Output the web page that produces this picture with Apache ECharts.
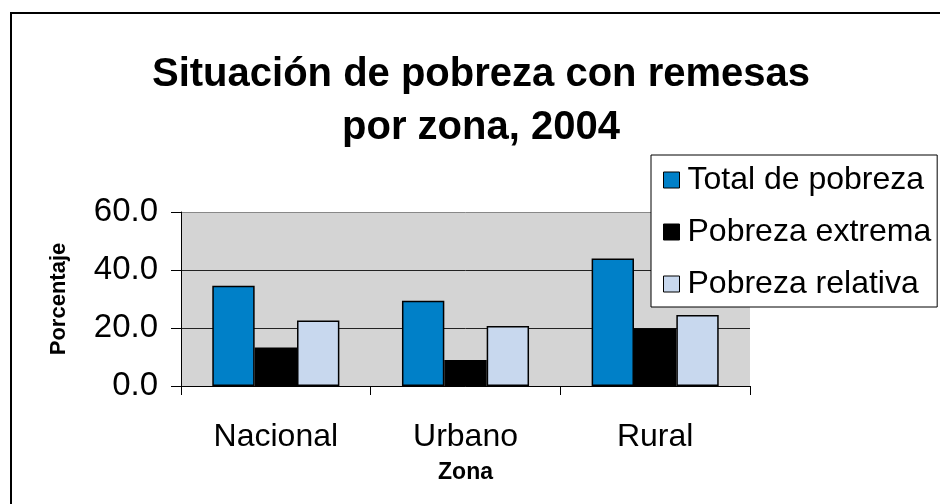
<!DOCTYPE html>
<html lang="es">
<head>
<meta charset="UTF-8">
<title>Situación de pobreza con remesas</title>
<script src="https://cdn.jsdelivr.net/npm/echarts@6/dist/echarts.min.js"></script>
<style>
  html, body { margin: 0; padding: 0; background: #fff; }
  #c { width: 940px; height: 504px; }
</style>
</head>
<body>
<div id="c"></div>
<script>
// datos
var zonas = ['Nacional', 'Urbano', 'Rural'];
var totalPobreza = [34.6, 29.4, 44.0];
var pobrezaExtrema = [13.3, 9.0, 19.9];
var pobrezaRelativa = [22.6, 20.7, 24.5];
var yTicks = [0, 20, 40, 60];

var FONT = '"Liberation Sans", Arial, sans-serif';
var chart = echarts.init(document.getElementById('c'));

function serie(name, data, color) {
    return {
        name: name,
        type: 'bar',
        data: data,
        barGap: '0%',
        barCategoryGap: '33%',
        itemStyle: { color: color, borderColor: '#000', borderWidth: 1.5 }
    };
}

var option = {
    animation: false,
    textStyle: { fontFamily: FONT, color: '#000' },
    title: {
        text: 'Situación de pobreza con remesas\npor zona, 2004',
        left: 476,
        top: 43,
        textAlign: 'center',
        textStyle: { fontSize: 40, fontWeight: 'bold', lineHeight: 53, color: '#000', fontFamily: FONT }
    },
    graphic: [{
        type: 'rect',
        shape: { x: 11, y: 13, width: 940, height: 500 },
        style: { fill: 'none', stroke: '#000', lineWidth: 2 },
        z: 100
    }],
    legend: {
        orient: 'vertical',
        left: 651,
        top: 155,
        padding: [9, 6, 7, 12],
        itemGap: 20,
        itemWidth: 16,
        itemHeight: 16,
        backgroundColor: '#fff',
        borderColor: '#000',
        borderWidth: 1,
        icon: 'rect',
        textStyle: { fontSize: 32, color: '#000', fontFamily: FONT, padding: [0, 0, 0, 3] },
        itemStyle: { borderColor: '#000', borderWidth: 1 },
        z: 10
    },
    grid: {
        left: 181,
        right: 190,
        top: 212,
        bottom: 118,
        show: true,
        backgroundColor: '#d4d4d4',
        borderWidth: 0
    },
    xAxis: {
        type: 'category',
        data: zonas,
        name: 'Zona',
        nameLocation: 'middle',
        nameGap: 75,
        nameTextStyle: { fontSize: 23, fontWeight: 'bold', color: '#000' },
        axisLine: { lineStyle: { color: '#000', width: 1 } },
        axisTick: { show: true, length: 9, lineStyle: { color: '#000' } },
        axisLabel: { fontSize: 32, color: '#000', margin: 35 }
    },
    yAxis: {
        type: 'value',
        min: yTicks[0],
        max: yTicks[yTicks.length - 1],
        interval: yTicks[1] - yTicks[0],
        name: 'Porcentaje',
        nameLocation: 'middle',
        nameGap: 111,
        nameTextStyle: { fontSize: 22, fontWeight: 'bold', color: '#000' },
        axisLine: { show: true, lineStyle: { color: '#000', width: 1 } },
        axisTick: { show: true, length: 10, lineStyle: { color: '#000' } },
        axisLabel: {
            fontSize: 33, color: '#000', margin: 23,
            formatter: function (v) { return v.toFixed(1); }
        },
        splitLine: { show: true, lineStyle: { color: ['#222', '#222', '#222', '#888'], width: 1 } }
    },
    series: [
        serie('Total de pobreza', totalPobreza, '#0080c8'),
        serie('Pobreza extrema', pobrezaExtrema, '#000000'),
        serie('Pobreza relativa', pobrezaRelativa, '#c8d8ee')
    ]
};

chart.setOption(option);
</script>
</body>
</html>
